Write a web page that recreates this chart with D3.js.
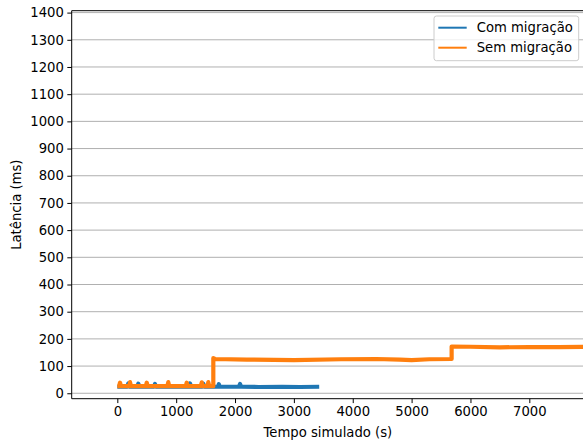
<!DOCTYPE html>
<html>
<head>
<meta charset="utf-8">
<script src="https://cdn.jsdelivr.net/npm/d3@7"></script>
<style>
  body { margin: 0; background: #fff; }
  text { font-family: "DejaVu Sans", sans-serif; }
</style>
</head>
<body>
<svg id="chart" width="583" height="445"></svg>
<script>
// Com migração (blue): time (s) and latency (ms)
var comTempo = [0, 170, 187, 204, 340, 357, 374, 620, 640, 660, 1215, 1235, 1255, 1440, 1461, 1482,
    1710, 1725, 1740, 2065, 2085, 2105, 2400, 2800, 3100, 3430];
var comLatencia = [24, 24, 36, 24, 24, 35, 24, 24, 34, 24, 24, 36, 24, 24, 35, 24,
    24, 33, 24, 24, 34, 24, 23, 24, 23, 24];

// Sem migração (orange)
var semTempo = [0, 30, 46, 62, 200, 216, 232, 484, 500, 516, 850, 866, 882, 1163, 1179, 1195,
    1418, 1434, 1450, 1530, 1546, 1562, 1631, 1631, 1660, 2200, 3000, 3800, 4400, 4800, 5000,
    5300, 5680, 5680, 6000, 6500, 7000, 7500, 8000];
var semLatencia = [26, 26, 39, 26, 26, 41, 26, 26, 39, 26, 26, 41, 26, 26, 39, 26,
    26, 40, 26, 26, 41, 26, 26, 129, 126, 124, 122, 125, 126, 124, 122,
    125, 126, 172, 171, 169, 170, 170, 171];

var xTicks = [0, 1000, 2000, 3000, 4000, 5000, 6000, 7000];
var yTicks = [0, 100, 200, 300, 400, 500, 600, 700, 800, 900, 1000, 1100, 1200, 1300, 1400];
var seriesNames = ["Com migração", "Sem migração"];
var colors = ["#1f77b4", "#ff7f0e"];

var margin = {left: 71.7, top: 10.7, right: 584, bottom: 398.7};
var fontSize = "13.2px";
var svg = d3.select("#chart");

var x = d3.scaleLinear().domain([-775, 7929]).range([margin.left, margin.right]);
var y = d3.scaleLinear().domain([-20, 1407]).range([margin.bottom, margin.top]);

// grid lines
svg.append("g").selectAll("line")
    .data(yTicks)
  .enter().append("line")
    .attr("x1", margin.left).attr("x2", margin.right)
    .attr("y1", function (d) { return y(d); })
    .attr("y2", function (d) { return y(d); })
    .style("stroke", "#b0b0b0")
    .style("stroke-width", 1);

svg.append("clipPath").attr("id", "plotClip")
  .append("rect")
    .attr("x", margin.left).attr("y", margin.top)
    .attr("width", margin.right - margin.left)
    .attr("height", margin.bottom - margin.top);

var line = d3.line()
    .x(function (d) { return x(d[0]); })
    .y(function (d) { return y(d[1]); });

var series = [d3.zip(comTempo, comLatencia), d3.zip(semTempo, semLatencia)];

svg.append("g").attr("clip-path", "url(#plotClip)")
  .selectAll("path")
    .data(series)
  .enter().append("path")
    .attr("d", line)
    .style("fill", "none")
    .style("stroke", function (d, i) { return colors[i]; })
    .style("stroke-width", 4.2)
    .style("stroke-linejoin", "round")
    .style("stroke-linecap", "butt");

// axes
var xAxis = svg.append("g")
    .attr("transform", "translate(0," + margin.bottom + ")")
    .call(d3.axisBottom(x).tickValues(xTicks).tickFormat(d3.format("d")).tickSize(4.4).tickPadding(3.5));
var yAxis = svg.append("g")
    .attr("transform", "translate(" + margin.left + ",0)")
    .call(d3.axisLeft(y).tickValues(yTicks).tickFormat(d3.format("d")).tickSize(4.4).tickPadding(3.5));

[xAxis, yAxis].forEach(function (a) {
    a.select(".domain").remove();
    a.selectAll("text").style("font-size", fontSize).style("fill", "#000")
        .style("font-family", "DejaVu Sans");
    a.selectAll("line").style("stroke", "#000").style("stroke-width", 1);
});

// spines (left, bottom, top)
svg.append("line").attr("x1", margin.left).attr("x2", margin.left)
    .attr("y1", margin.top).attr("y2", margin.bottom)
    .style("stroke", "#000").style("stroke-width", 1);
svg.append("line").attr("x1", margin.left).attr("x2", margin.right)
    .attr("y1", margin.bottom).attr("y2", margin.bottom)
    .style("stroke", "#000").style("stroke-width", 1);
svg.append("line").attr("x1", margin.left).attr("x2", margin.right)
    .attr("y1", margin.top).attr("y2", margin.top)
    .style("stroke", "#000").style("stroke-width", 1);

// axis labels
svg.append("text")
    .attr("x", (margin.left + margin.right) / 2)
    .attr("y", 437)
    .attr("text-anchor", "middle")
    .style("font-size", fontSize)
    .text("Tempo simulado (s)");
svg.append("text")
    .attr("transform", "translate(21," + (margin.top + margin.bottom) / 2 + ") rotate(-90)")
    .attr("text-anchor", "middle")
    .style("font-size", fontSize)
    .text("Latência (ms)");

// legend
var legend = svg.append("g");
legend.append("rect")
    .attr("x", 434).attr("y", 16)
    .attr("width", 144.7).attr("height", 44.7)
    .attr("rx", 2.5)
    .style("fill", "#fff").style("fill-opacity", 0.8)
    .style("stroke", "#ccc").style("stroke-width", 1);
var item = legend.selectAll(".item")
    .data(seriesNames)
  .enter().append("g")
    .attr("class", "item")
    .attr("transform", function (d, i) { return "translate(0," + (27.7 + i * 20) + ")"; });
item.append("line")
    .attr("x1", 438.3).attr("x2", 466.7)
    .style("stroke", function (d, i) { return colors[i]; })
    .style("stroke-width", 2);
item.append("text")
    .attr("x", 476.7).attr("y", 4.7)
    .style("font-size", fontSize)
    .text(function (d) { return d; });
</script>
</body>
</html>
